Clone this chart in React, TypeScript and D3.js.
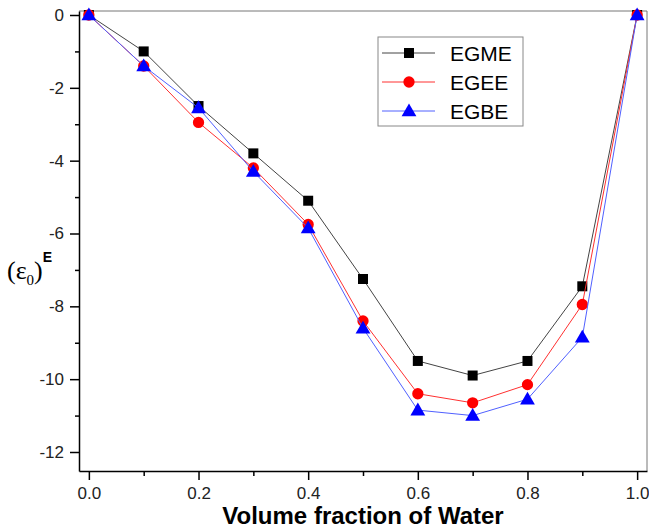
import { useEffect, useRef } from "react";
import * as d3 from "d3";

const fractions = [0, 0.1, 0.2, 0.3, 0.4, 0.5, 0.6, 0.7, 0.8, 0.9, 1.0];
const egme = [0, -1.0, -2.5, -3.8, -5.1, -7.25, -9.5, -9.9, -9.5, -7.45, 0];
const egee = [0, -1.4, -2.95, -4.2, -5.75, -8.4, -10.4, -10.65, -10.15, -7.95, 0];
const egbe = [0, -1.4, -2.55, -4.3, -5.85, -8.6, -10.85, -11.0, -10.55, -8.85, 0];
const seriesNames = ["EGME", "EGEE", "EGBE"];
const xTicks = [0, 0.2, 0.4, 0.6, 0.8, 1.0];
const yTicks = [0, -2, -4, -6, -8, -10, -12];

const width = 649;
const height = 529;

const series = [
  { name: seriesNames[0], values: egme, line: "#444", fill: "#000", shape: "square" },
  { name: seriesNames[1], values: egee, line: "#ff3030", fill: "#ff0000", shape: "circle" },
  { name: seriesNames[2], values: egbe, line: "#5060ff", fill: "#0000ff", shape: "triangle" },
];

const symbolFor = (shape: string) => {
  if (shape === "square") return d3.symbol(d3.symbolSquare, 100)();
  if (shape === "circle") return d3.symbol(d3.symbolCircle, 100)();
  return d3.symbol(d3.symbolTriangle, 95)();
};

const App = () => {
  const ref = useRef<SVGSVGElement>(null);

  useEffect(() => {
    const svg = d3.select(ref.current);
    svg.selectAll("*").remove();

    const x = d3.scaleLinear().domain([-0.018, 1.018]).range([79, 647]);
    const y = d3.scaleLinear().domain([0, -12]).range([15, 452]);
    const yTop = y.invert(11);
    const yBottom = y.invert(471);

    // frame top/right
    svg.append("line").attr("x1", 79).attr("x2", 647).attr("y1", 11).attr("y2", 11)
      .attr("stroke", "#777").attr("stroke-width", 1);
    svg.append("line").attr("x1", 647).attr("x2", 647).attr("y1", 11).attr("y2", 471)
      .attr("stroke", "#777").attr("stroke-width", 1);

    // x axis
    const xAxis = d3.axisBottom(x).tickValues(xTicks).tickSize(9).tickSizeOuter(0)
      .tickFormat(d3.format(".1f"));
    const gx = svg.append("g").attr("transform", "translate(0,471)").call(xAxis);
    gx.select(".domain").attr("stroke", "#000").attr("stroke-width", 1.5);
    gx.selectAll(".tick line").attr("stroke", "#000").attr("stroke-width", 1.5);
    gx.selectAll("text").attr("font-family", "Liberation Sans, Arial, sans-serif")
      .attr("font-size", 17).attr("fill", "#222").attr("dy", "0.95em");
    const xMinor = d3.axisBottom(x).tickValues([0.1, 0.3, 0.5, 0.7, 0.9]).tickSize(5)
      .tickFormat(() => "");
    const gxm = svg.append("g").attr("transform", "translate(0,471)").call(xMinor);
    gxm.select(".domain").remove();
    gxm.selectAll(".tick line").attr("stroke", "#000").attr("stroke-width", 1.5);

    // y axis
    const yScaleAxis = y.copy().domain([yTop, yBottom]).range([11, 471]);
    const yAxis = d3.axisLeft(yScaleAxis).tickValues(yTicks).tickSize(9).tickSizeOuter(0)
      .tickFormat((d) => String(d));
    const gy = svg.append("g").attr("transform", "translate(79,0)").call(yAxis);
    gy.select(".domain").attr("stroke", "#000").attr("stroke-width", 1.5);
    gy.selectAll(".tick line").attr("stroke", "#000").attr("stroke-width", 1.5);
    gy.selectAll("text").attr("font-family", "Liberation Sans, Arial, sans-serif")
      .attr("font-size", 17).attr("fill", "#222").attr("x", -15);
    const yMinor = d3.axisLeft(yScaleAxis).tickValues([-1, -3, -5, -7, -9, -11]).tickSize(4)
      .tickFormat(() => "");
    const gym = svg.append("g").attr("transform", "translate(79,0)").call(yMinor);
    gym.select(".domain").remove();
    gym.selectAll(".tick line").attr("stroke", "#000").attr("stroke-width", 1.5);

    // series
    const line = d3.line<number>().x((_, i) => x(fractions[i])).y((d) => y(d));
    series.forEach((s) => {
      svg.append("path").attr("d", line(s.values)).attr("fill", "none")
        .attr("stroke", s.line).attr("stroke-width", 1);
      svg.append("g").selectAll("path").data(s.values).join("path")
        .attr("d", symbolFor(s.shape))
        .attr("transform", (d, i) => `translate(${x(fractions[i])},${y(d) + (s.shape === "triangle" ? 1 : 0)})`)
        .attr("fill", s.fill);
    });

    // legend
    const lg = svg.append("g");
    lg.append("rect").attr("x", 378).attr("y", 37).attr("width", 145).attr("height", 89)
      .attr("fill", "#fff").attr("stroke", "#888").attr("stroke-width", 1);
    series.forEach((s, i) => {
      const ly = 53 + i * 29;
      lg.append("line").attr("x1", 382).attr("x2", 435).attr("y1", ly).attr("y2", ly)
        .attr("stroke", s.line).attr("stroke-width", 1);
      lg.append("path").attr("d", symbolFor(s.shape))
        .attr("transform", `translate(409,${ly + (s.shape === "triangle" ? 1 : 0)})`)
        .attr("fill", s.fill);
      lg.append("text").attr("x", 450).attr("y", ly + 8).text(s.name)
        .attr("font-family", "Liberation Sans, Arial, sans-serif").attr("font-size", 21)
        .attr("fill", "#000");
    });

    // axis titles
    svg.append("text").attr("x", 363).attr("y", 524).attr("text-anchor", "middle")
      .attr("font-family", "Liberation Sans, Arial, sans-serif").attr("font-size", 24)
      .attr("font-weight", "bold").attr("fill", "#000").text("Volume fraction of Water");

    const yl = svg.append("text").attr("x", 7).attr("y", 279)
      .attr("font-family", "Liberation Serif, Times New Roman, serif").attr("font-size", 26)
      .attr("fill", "#000");
    yl.append("tspan").text("(ε");
    yl.append("tspan").attr("font-size", 15).attr("dy", 6).text("0");
    yl.append("tspan").attr("dy", -6).text(")");
    yl.append("tspan").attr("font-family", "Liberation Sans, Arial, sans-serif")
      .attr("font-weight", "bold").attr("font-size", 14).attr("dy", -17).text("E");
  }, []);

  return (
    <svg ref={ref} width={width} height={height}
      style={{ position: "absolute", left: 0, top: 0, background: "#fff" }} />
  );
};

export default App;
